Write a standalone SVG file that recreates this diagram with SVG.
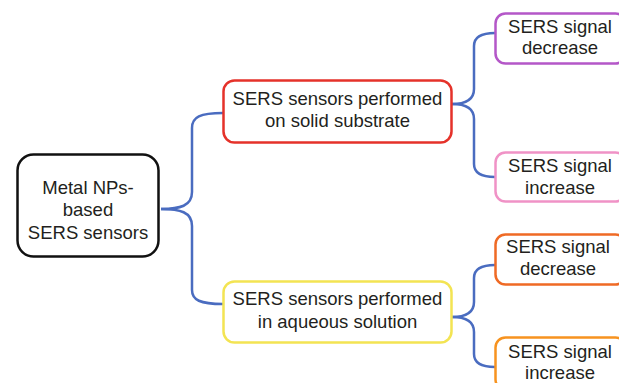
<svg xmlns="http://www.w3.org/2000/svg" width="619" height="383" viewBox="0 0 619 383">
<style>
.box{fill:#fff;stroke-width:2.5}
.t{font-family:"Liberation Sans",Arial,sans-serif;font-size:18.5px;fill:#231f20;text-anchor:middle}
.c{fill:none;stroke:#4a6cc0;stroke-width:2.5}
</style>
<rect width="619" height="383" fill="#fff"/>
<g id="connectors">
<path class="c" d="M161,209 C180,209 192,206 192,192 L192,128 C192,117 200,113 223,113"/>
<path class="c" d="M161,209 C180,209 192,212 192,226 L192,290 C192,300 200,304 223,304"/>
<path class="c" d="M452,104 C466,104 474,100 474,89 L474,46 C474,37 481,33 495,33"/>
<path class="c" d="M452,104 C466,104 474,108 474,119 L474,164 C474,173 481,177 495,177"/>
<path class="c" d="M452,317 C466,317 474,313 474,302 L474,278 C474,269 481,265 495,265"/>
<path class="c" d="M452,317 C466,317 474,321 474,332 L474,354 C474,363 481,367 495,367"/>
</g>
<g id="root">
<rect class="box" x="17.5" y="154.5" width="141" height="102" rx="16" stroke="#111"/>
<text class="t" x="88" y="194">Metal NPs-</text>
<text class="t" x="88" y="216">based</text>
<text class="t" x="88" y="239">SERS sensors</text>
</g>
<g id="solid">
<rect class="box" x="223.5" y="80.5" width="228" height="62" rx="11" stroke="#e5322a"/>
<text class="t" x="337.5" y="105">SERS sensors performed</text>
<text class="t" x="337.5" y="127">on solid substrate</text>
</g>
<g id="aqueous">
<rect class="box" x="223.5" y="281.5" width="228" height="61" rx="11" stroke="#f3e453"/>
<text class="t" x="337.5" y="305">SERS sensors performed</text>
<text class="t" x="337.5" y="328">in aqueous solution</text>
</g>
<g id="solid-decrease">
<rect class="box" x="495.5" y="13.5" width="130" height="50" rx="10" stroke="#b457c8"/>
<text class="t" x="560" y="33">SERS signal</text>
<text class="t" x="560" y="54">decrease</text>
</g>
<g id="solid-increase">
<rect class="box" x="495.5" y="152.5" width="130" height="49" rx="10" stroke="#f092c6"/>
<text class="t" x="560" y="172">SERS signal</text>
<text class="t" x="560" y="194">increase</text>
</g>
<g id="aqueous-decrease">
<rect class="box" x="495.5" y="234.5" width="130" height="50" rx="10" stroke="#ef6a25"/>
<text class="t" x="558" y="253">SERS signal</text>
<text class="t" x="558" y="275">decrease</text>
</g>
<g id="aqueous-increase">
<rect class="box" x="495.5" y="337.5" width="130" height="52" rx="10" stroke="#f7931f"/>
<text class="t" x="560" y="358">SERS signal</text>
<text class="t" x="560" y="379">increase</text>
</g>
</svg>
